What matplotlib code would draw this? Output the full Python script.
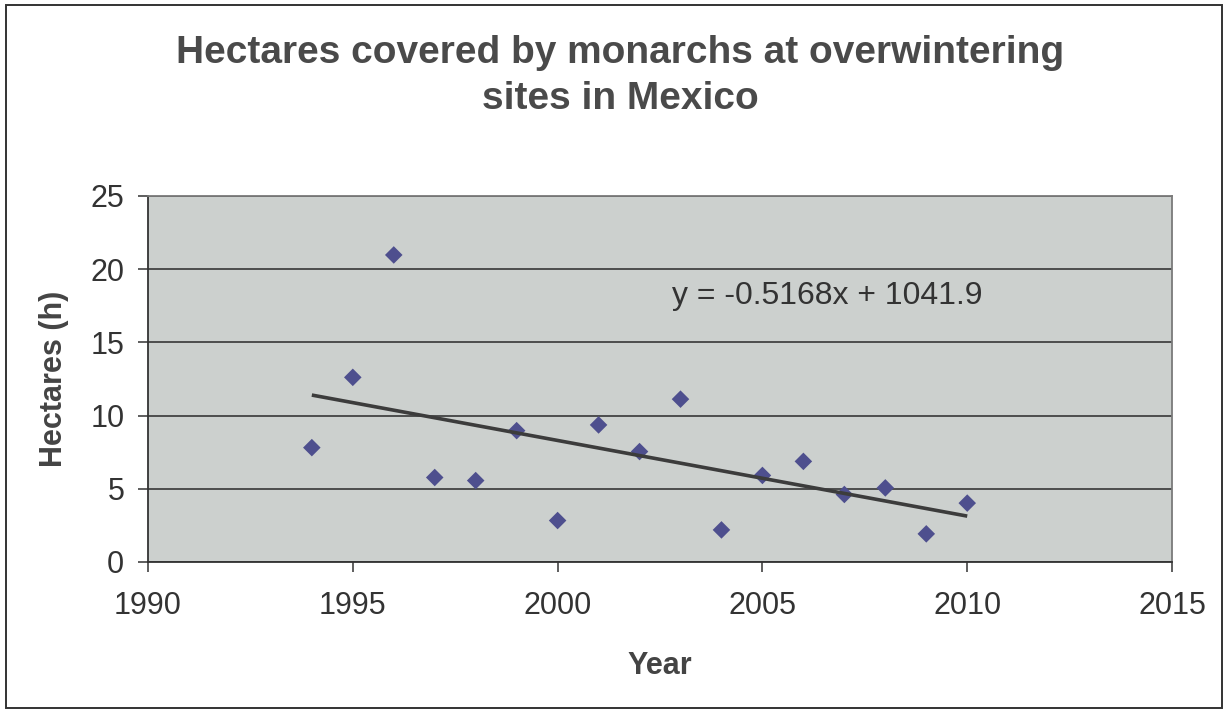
import matplotlib.pyplot as plt
from matplotlib.patches import Rectangle
import numpy as np

plt.rcParams["font.family"] = ["Liberation Sans", "DejaVu Sans"]

# overwintering season start year and area occupied (hectares)
years = [1994, 1995, 1996, 1997, 1998, 1999, 2000, 2001, 2002,
         2003, 2004, 2005, 2006, 2007, 2008, 2009, 2010]
hectares = [7.81, 12.61, 20.97, 5.77, 5.56, 8.97, 2.83, 9.36, 7.54,
            11.12, 2.19, 5.91, 6.87, 4.61, 5.06, 1.92, 4.02]

# linear trend as reported on the chart
slope = -0.5168
intercept = 1041.9

x_ticks = [1990, 1995, 2000, 2005, 2010, 2015]
y_ticks = [0, 5, 10, 15, 20, 25]

fig = plt.figure(figsize=(12.26, 7.10), dpi=100)
ax = fig.add_axes([0.1207, 0.2085, 0.8353, 0.5155])
ax.set_facecolor("#ccd0ce")

# horizontal gridlines
ax.grid(axis="y", color="#2a2a2a", linewidth=1.1)
ax.set_axisbelow(True)

ax.scatter(years, hectares, marker="D", s=80, color="#4e4f8e",
           edgecolors="none", zorder=3)

trend_x = np.array([years[0], years[-1]])
trend_y = slope * trend_x + intercept
ax.plot(trend_x, trend_y, color="#3c3c3c", linewidth=2.6, zorder=4,
        solid_capstyle="butt")

ax.text(2002.8, 18.2, f"y = {slope}x + {intercept}", fontsize=23,
        color="#333333", va="center", ha="left")

ax.set_xlim(1990, 2015)
ax.set_ylim(0, 25)
ax.set_xticks(x_ticks)
ax.set_yticks(y_ticks)
ax.tick_params(axis="both", direction="out", length=7, width=1.1,
               color="#333333", labelsize=22, labelcolor="#333333")
ax.tick_params(axis="x", pad=14)
ax.tick_params(axis="y", pad=10)

for side in ["left", "bottom"]:
    ax.spines[side].set_color("#333333")
    ax.spines[side].set_linewidth(1.3)
for side in ["top", "right"]:
    ax.spines[side].set_color("#7a7a7a")
    ax.spines[side].set_linewidth(1.3)

ax.set_xlabel("Year", fontsize=22, fontweight="bold", color="#444444")
ax.set_ylabel("Hectares (h)", fontsize=22, fontweight="bold", color="#444444")
ax.xaxis.set_label_coords(0.5, -0.243)
ax.yaxis.set_label_coords(-0.077, 0.5)

fig.text(0.506, 0.893,
         "Hectares covered by monarchs at overwintering\nsites in Mexico",
         fontsize=28, fontweight="bold", color="#4a4a4a",
         ha="center", va="center", linespacing=1.35)

# chart frame
fig.patches.append(Rectangle((0.005, 0.003), 0.992, 0.990,
                             transform=fig.transFigure, fill=False,
                             edgecolor="#333333", linewidth=1.4))

fig.savefig("out.png", dpi=100)
